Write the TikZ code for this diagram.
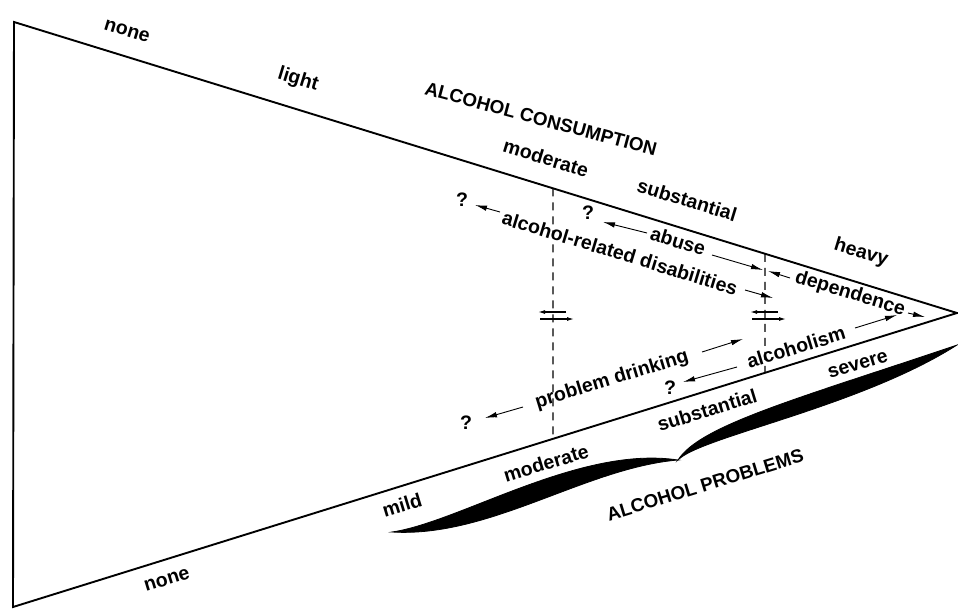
\documentclass[tikz,border=0pt]{standalone}
\usepackage{fontspec}
\setmainfont{Liberation Sans}
\usetikzlibrary{arrows.meta,calc}
\begin{document}
\begin{tikzpicture}[x=1pt,y=-1pt,
  lbl/.style={font=\bfseries\fontsize{19.5}{22}\selectfont, inner sep=0pt},
  ttl/.style={font=\bfseries\fontsize{18.8}{22}\selectfont, inner sep=0pt},
  outline/.style={line width=1.9pt, line join=miter},
  divider/.style={line width=1.1pt, dash pattern=on 8pt off 6pt},
  arr/.style={line width=0.9pt, -{Latex[length=12pt,width=5.5pt]}},
  crossarr/.style={line width=1.2pt, -{Latex[length=7pt,width=4pt]}},
  bracefill/.style={fill=black, draw=black, line width=0.8pt}
]
\useasboundingbox (0,0) rectangle (958,610);

% triangle
\coordinate (tl) at (14,22);
\coordinate (bl) at (13,607);
\coordinate (ap) at (957,313);
\draw[outline] (tl) -- (ap) -- (bl) -- cycle;

% dashed dividers
\coordinate (d1t) at ($(tl)!0.5716!(ap)$);
\coordinate (d1b) at ($(bl)!0.5720!(ap)$);
\coordinate (d2t) at ($(tl)!0.7964!(ap)$);
\coordinate (d2b) at ($(bl)!0.7966!(ap)$);
\draw[divider] (d1t) -- (d1b);
\draw[divider] (d2t) -- (d2b);

% crossing double arrows
\coordinate (x1a) at (566,312); \coordinate (x1b) at (538,312);
\coordinate (x1c) at (540,319); \coordinate (x1d) at (574,319);
\coordinate (x2a) at (778,312); \coordinate (x2b) at (750,312);
\coordinate (x2c) at (752,319); \coordinate (x2d) at (786,319);
\draw[crossarr] (x1a) -- (x1b);
\draw[crossarr] (x1c) -- (x1d);
\draw[crossarr] (x2a) -- (x2b);
\draw[crossarr] (x2c) -- (x2d);

% consumption labels
\node[lbl, rotate=-17] (noneT) at (127,31) {none};
\node[lbl, rotate=-17] (light) at (298,80) {light};
\node[ttl, rotate=-15] (cons) at (541,119) {ALCOHOL CONSUMPTION};
\node[lbl, rotate=-17] (modT) at (546,158) {moderate};
\node[lbl, rotate=-17] (subT) at (687,200) {substantial};
\node[lbl, rotate=-17] (heavy) at (861,253) {heavy};

% inner labels
\node[lbl] (q1) at (462,200) {?};
\node[lbl] (q2) at (588,213) {?};
\node[lbl] (q3) at (670,388) {?};
\node[lbl] (q4) at (466,423) {?};
\node[lbl, rotate=-17] (ard) at (620,253) {alcohol-related disabilities};
\node[lbl, rotate=-17] (abuse) at (678,241) {abuse};
\node[lbl, rotate=-17] (dep) at (850,294) {dependence};
\node[lbl, rotate=17] (alc) at (796,347) {alcoholism};
\node[lbl, rotate=17] (pd) at (612,380) {problem drinking};

% arrows
\coordinate (a1s) at (500,212); \coordinate (a1e) at (475,205);
\coordinate (a2s) at (745,290); \coordinate (a2e) at (773,298);
\coordinate (a3s) at (647,233); \coordinate (a3e) at (603,222);
\coordinate (a4s) at (712,255); \coordinate (a4e) at (763,270);
\coordinate (a5s) at (790,278); \coordinate (a5e) at (768,271);
\coordinate (a6s) at (908,313); \coordinate (a6e) at (925,317);
\coordinate (a7s) at (855,328); \coordinate (a7e) at (897,315);
\coordinate (a8s) at (737,367); \coordinate (a8e) at (683,382);
\coordinate (a9s) at (702,352); \coordinate (a9e) at (743,339);
\coordinate (a10s) at (523,407); \coordinate (a10e) at (485,418);
\foreach \i in {1,...,10} {\draw[arr] (a\i s) -- (a\i e);}

% problems labels
\node[lbl, rotate=17] (subB) at (707,410) {substantial};
\node[lbl, rotate=17] (sev) at (858,365) {severe};
\node[lbl, rotate=17] (modB) at (546,463) {moderate};
\node[lbl, rotate=17] (mild) at (402,505) {mild};
\node[ttl, rotate=17] (prob) at (705,485) {ALCOHOL PROBLEMS};
\node[lbl, rotate=17] (noneB) at (167,580) {none};

% brace
\coordinate (bL) at (392,532);
\coordinate (bC) at (678,460);
\coordinate (bR) at (957,345);
\filldraw[bracefill] (bL) .. controls (460,522) and (580,445) .. (bC)
  .. controls (585,468) and (490,538) .. (bL) -- cycle;
\filldraw[bracefill] (bC) .. controls (700,425) and (800,398) .. (bR)
  .. controls (860,407) and (700,437) .. (bC) -- cycle;
\end{tikzpicture}
\end{document}
